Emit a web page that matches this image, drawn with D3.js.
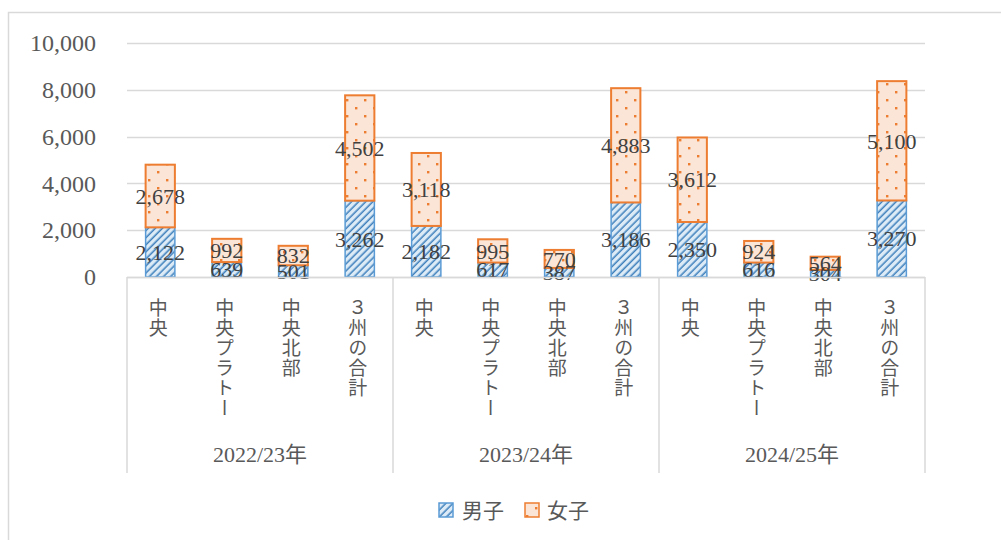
<!DOCTYPE html>
<html><head><meta charset="utf-8">
<script src="https://cdn.jsdelivr.net/npm/d3@7"></script>
<style>
html,body{margin:0;padding:0;background:#fff;}
svg{display:block;}
text{font-family:"Liberation Serif","DejaVu Serif","Noto Sans CJK JP",serif;}
</style></head>
<body><svg id="c" width="1001" height="540"></svg>
<script>
const groups = ["2022/23年","2023/24年","2024/25年"];
const regions = ["中央","中央プラトー","中央北部","３州の合計"];
const male = [2122,639,501,3262, 2182,617,387,3186, 2350,616,304,3270];
const female = [2678,992,832,4502, 3118,995,770,4883, 3612,924,564,5100];
const yTicks = [0,2000,4000,6000,8000,10000];
const seriesNames = ["男子","女子"];

const svg = d3.select("#c");
const L = 127, R = 925, T = 43, B = 277;
const fmt = d3.format(",");

// outer border
svg.append("path").attr("d","M8.5,540 V12.5 H1001").attr("fill","none").attr("stroke","#d9d9d9").attr("stroke-width",1.5);

const defs = svg.append("defs");
const hatch = defs.append("pattern").attr("id","hatch").attr("patternUnits","userSpaceOnUse")
  .attr("width",5).attr("height",5).attr("patternTransform","rotate(45)");
hatch.append("rect").attr("width",5).attr("height",5).attr("fill","#ddebf7");
hatch.append("line").attr("x1",1.2).attr("y1",0).attr("x2",1.2).attr("y2",5).attr("stroke","#2e75b6").attr("stroke-width",1.4);
const dots = defs.append("pattern").attr("id","dots").attr("patternUnits","userSpaceOnUse")
  .attr("width",18).attr("height",16).attr("x",0).attr("y",0);
dots.append("rect").attr("width",18).attr("height",16).attr("fill","#fbe5d6");
dots.append("rect").attr("x",4).attr("y",3).attr("width",2.4).attr("height",2.4).attr("fill","#ed7d31");
dots.append("rect").attr("x",13).attr("y",11).attr("width",2.4).attr("height",2.4).attr("fill","#ed7d31");

const y = d3.scaleLinear().domain([0,10000]).range([B,T]);
const cats = d3.range(male.length);
const x = d3.scaleBand().domain(cats).range([L,R]).padding(0);
const bw = x.bandwidth()*0.44;

// gridlines
svg.append("g").selectAll("line").data(yTicks).join("line")
  .attr("x1",L).attr("x2",R).attr("y1",d=>Math.round(y(d))+0.5).attr("y2",d=>Math.round(y(d))+0.5)
  .attr("stroke","#d9d9d9").attr("stroke-width",1.3);

// y axis labels
const yAxis = d3.axisLeft(y).tickValues(yTicks).tickFormat(fmt).tickSize(0).tickPadding(0);
const ya = svg.append("g").attr("transform",`translate(96,0)`).call(yAxis);
ya.select(".domain").remove();
ya.selectAll("text").attr("font-size",24).attr("fill","#595959")
  .style("font-family","'Liberation Serif',serif");

// bars
const gm = svg.append("g");
cats.forEach(i=>{
  const cx = x(i)+x.bandwidth()/2;
  const m = male[i], f = female[i];
  gm.append("rect").attr("x",cx-bw/2).attr("y",y(m)).attr("width",bw).attr("height",y(0)-y(m))
    .attr("fill","url(#hatch)").attr("stroke","#5b9bd5").attr("stroke-width",1.5);
  gm.append("rect").attr("x",cx-bw/2).attr("y",y(m+f)).attr("width",bw).attr("height",y(m)-y(m+f))
    .attr("fill","url(#dots)").attr("stroke","#ed7d31").attr("stroke-width",2);
});
// data labels
cats.forEach(i=>{
  const cx = x(i)+x.bandwidth()/2;
  const m = male[i], f = female[i];
  [[m/2,m],[m+f/2,f]].forEach(([pos,v])=>{
    svg.append("text").attr("x",cx).attr("y",y(pos)).attr("dy","0.35em").attr("text-anchor","middle")
      .attr("font-size",22).attr("fill","#404040").text(fmt(v));
  });
});

// axis line
svg.append("line").attr("x1",L).attr("x2",R).attr("y1",B+0.5).attr("y2",B+0.5).attr("stroke","#d9d9d9").attr("stroke-width",1.5);
// group separators
const gw = (R-L)/groups.length;
d3.range(groups.length+1).forEach(k=>{
  svg.append("line").attr("x1",L+k*gw).attr("x2",L+k*gw).attr("y1",B).attr("y2",473)
    .attr("stroke","#d9d9d9").attr("stroke-width",1.5);
});
// category labels vertical
cats.forEach(i=>{
  const cx = x(i)+x.bandwidth()/2 - 2;
  svg.append("text").attr("x",cx).attr("y",298)
    .style("writing-mode","vertical-rl").style("text-orientation","upright")
    .style("font-family","'Noto Sans CJK JP',sans-serif")
    .attr("font-size",19).attr("fill","#595959").attr("letter-spacing",1)
    .text(regions[i%regions.length]);
});
// group labels
groups.forEach((g,k)=>{
  svg.append("text").attr("x",L+gw*(k+0.5)).attr("y",462).attr("text-anchor","middle")
    .attr("font-size",22).attr("fill","#595959").text(g);
});

// legend
const leg = [{n:seriesNames[0],fill:"url(#hatch)",s:"#5b9bd5",x:439,tx:462},{n:seriesNames[1],fill:"url(#dots)",s:"#ed7d31",x:525,tx:547}];
leg.forEach(d=>{
  svg.append("rect").attr("x",d.x).attr("y",503).attr("width",14).attr("height",14)
    .attr("fill",d.fill).attr("stroke",d.s).attr("stroke-width",1.5);
  svg.append("text").attr("x",d.tx).attr("y",518).attr("font-size",21).attr("fill","#595959")
    .style("font-family","'Noto Sans CJK JP',sans-serif").text(d.n);
});
</script></body></html>
